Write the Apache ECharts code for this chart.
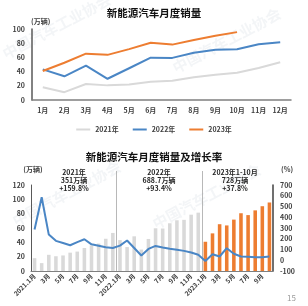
<!DOCTYPE html>
<html><head><meta charset="utf-8">
<script src="https://cdn.jsdelivr.net/npm/echarts@6/dist/echarts.min.js"></script>
<style>html,body{margin:0;padding:0;background:#fff}#c{width:308px;height:306px}</style>
</head><body><div id="c"></div>
<script>
// ---- data ----
const months = ['1月','2月','3月','4月','5月','6月','7月','8月','9月','10月','11月','12月'];
const sales2021 = [17.9, 11.0, 22.6, 20.6, 21.7, 25.6, 27.1, 32.1, 35.7, 38.3, 45.0, 53.1];
const sales2022 = [43.1, 33.4, 48.4, 29.9, 44.7, 59.6, 59.3, 66.6, 70.8, 71.4, 78.6, 81.4];
const sales2023 = [40.8, 52.5, 65.3, 63.6, 71.7, 80.6, 78.0, 84.6, 90.4, 95.6];
const growth2021 = [285.8, 585.5, 238.9, 180.3, 160.1, 139.3, 169.2, 194.9, 148.1, 134.9, 121.1, 114.4];
const growth2022 = [135.8, 184.1, 114.2, 44.6, 105.2, 133.2, 118.6, 107.7, 97.6, 87.2, 72.3, 51.8];
const growth2023 = [-6.3, 55.9, 34.8, 112.3, 60.2, 35.2, 31.6, 27.0, 27.7, 33.9];
const bottomCats = [
  '2021.1月','2月','3月','4月','5月','6月','7月','8月','9月','10月','11月','12月',
  '2022.1月','2月','3月','4月','5月','6月','7月','8月','9月','10月','11月','12月',
  '2023.1月','2月','3月','4月','5月','6月','7月','8月','9月','10月'
];
const yearBreaks = [12, 24];
const notes = [
  {text: '2021年\n351万辆\n+159.8%', x: 74},
  {text: '2022年\n688.7万辆\n+93.4%', x: 159},
  {text: '2023年1-10月\n728万辆\n+37.8%', x: 235}
];

const GRAY = '#d9d9d9', BLUE = '#4a86c5', ORANGE = '#ed7d31', TXT = '#404040';
const FONT = '"Noto Sans CJK SC", "Noto Sans", sans-serif';

const barsHist = sales2021.concat(sales2022).concat(sales2023.map(() => null));
const bars2023 = sales2021.map(() => null).concat(sales2022.map(() => null)).concat(sales2023);
const growthAll = growth2021.concat(growth2022).concat(growth2023);

const chart = echarts.init(document.getElementById('c'), null, {renderer: 'canvas'});
const axisLabel = {color: TXT, fontSize: 7, fontFamily: FONT, fontWeight: 'bold'};

const wm = (x, y, rot, txt) => ({
  type: 'text', x: x, y: y, rotation: rot * Math.PI / 180, silent: true, z: -1,
  style: {text: txt, fill: 'rgba(170,185,200,0.14)', font: 'bold 15px ' + FONT}
});

chart.setOption({
  animation: false,
  textStyle: {fontFamily: FONT},
  title: [
    {text: '新能源汽车月度销量', left: 'center', top: 3,
     textStyle: {fontSize: 10.5, fontWeight: 'bold', color: '#111', fontFamily: FONT}},
    {text: '新能源汽车月度销量及增长率', left: 'center', top: 147,
     textStyle: {fontSize: 10.5, fontWeight: 'bold', color: '#111', fontFamily: FONT}}
  ],
  legend: {
    top: 121, left: 'center', itemWidth: 14, itemHeight: 2, itemGap: 14, icon: 'rect',
    data: ['2021年', '2022年', '2023年'],
    textStyle: {color: TXT, fontSize: 7, fontWeight: 'bold', fontFamily: FONT}
  },
  grid: [
    {left: 32, right: 17, top: 29, bottom: 206},
    {left: 31, right: 35, top: 185, bottom: 35},
    {left: 31, right: 35, top: 171, bottom: 35}
  ],
  xAxis: [
    {type: 'category', gridIndex: 0, data: months,
     axisLine: {lineStyle: {color: '#7f7f7f', width: 1.5}}, axisTick: {show: false},
     axisLabel: Object.assign({margin: 7}, axisLabel)},
    {type: 'category', gridIndex: 1, data: bottomCats,
     axisLine: {lineStyle: {color: '#7f7f7f', width: 1}}, axisTick: {show: false},
     axisLabel: Object.assign({interval: 1, rotate: 45, margin: 4}, axisLabel, {fontSize: 6.5})},
    {type: 'value', gridIndex: 2, min: 0, max: bottomCats.length, show: false}
  ],
  yAxis: [
    {type: 'value', gridIndex: 0, min: 0, max: 100, interval: 20,
     name: '(万辆)', nameGap: 4, nameTextStyle: {color: TXT, fontSize: 7, fontWeight: 'bold', align: 'left', padding: [0, 0, 0, -1]},
     axisLine: {show: true, lineStyle: {color: '#595959', width: 1.5}}, axisTick: {show: false},
     splitLine: {show: false}, axisLabel: Object.assign({margin: 7}, axisLabel)},
    {type: 'value', gridIndex: 1, min: 0, max: 120, interval: 20,
     name: '(万辆)', nameGap: 12, nameTextStyle: {color: TXT, fontSize: 7, fontWeight: 'bold', align: 'center', padding: [0, 0, 0, 4]},
     axisLine: {show: true, lineStyle: {color: '#595959', width: 1}}, axisTick: {show: false},
     splitLine: {show: false}, axisLabel: Object.assign({margin: 6}, axisLabel)},
    {type: 'value', gridIndex: 1, position: 'right', min: -100, max: 700, interval: 100,
     name: '(%)', nameGap: 12, nameTextStyle: {color: TXT, fontSize: 7, fontWeight: 'bold', align: 'left', padding: [0, 0, 0, 8]},
     axisLine: {show: true, lineStyle: {color: '#404040', width: 1.5}}, axisTick: {show: false},
     splitLine: {show: false}, axisLabel: Object.assign({margin: 7}, axisLabel)},
    {type: 'value', gridIndex: 2, min: 0, max: 1, show: false}
  ],
  series: [
    {name: '2021年', type: 'line', xAxisIndex: 0, yAxisIndex: 0, data: sales2021,
     symbol: 'none', lineStyle: {color: GRAY, width: 2}, itemStyle: {color: GRAY}},
    {name: '2022年', type: 'line', xAxisIndex: 0, yAxisIndex: 0, data: sales2022,
     symbol: 'none', lineStyle: {color: BLUE, width: 2}, itemStyle: {color: BLUE}},
    {name: '2023年', type: 'line', xAxisIndex: 0, yAxisIndex: 0,
     data: sales2023.map((v, i) => i === sales2023.length - 1
       ? {value: v, label: {show: true, position: 'right', distance: 8, formatter: '{c}', color: TXT, fontSize: 7}}
       : v),
     symbol: 'none', lineStyle: {color: ORANGE, width: 2}, itemStyle: {color: ORANGE}},
    {name: 'hist', type: 'bar', xAxisIndex: 1, yAxisIndex: 1, data: barsHist,
     barWidth: '50%', barGap: '-100%', itemStyle: {color: GRAY}},
    {name: 'y2023', type: 'bar', xAxisIndex: 1, yAxisIndex: 1, data: bars2023,
     barWidth: '50%', barGap: '-100%', itemStyle: {color: ORANGE}},
    {name: 'growth', type: 'line', xAxisIndex: 1, yAxisIndex: 2, data: growthAll,
     symbol: 'none', lineStyle: {color: BLUE, width: 2}, itemStyle: {color: BLUE}, z: 5},
    {name: 'sep', type: 'line', xAxisIndex: 2, yAxisIndex: 3, data: [],
     symbol: 'none', silent: true,
     markLine: {silent: true, symbol: 'none', label: {show: false},
       lineStyle: {color: '#a6a6a6', width: 0.8, type: 'solid'},
       data: yearBreaks.map(i => ({xAxis: i}))}}
  ],
  graphic: [
    wm(0, 48, 28, '中国汽车工业协会'),
    wm(170, 62, 28, '中国汽车工业协会'),
    wm(10, 215, 28, '中国汽车工业协会'),
    wm(150, 218, 28, '中国汽车工业协会'),
    ...notes.map(n => ({
      type: 'text', x: n.x, y: 169, silent: true,
      style: {text: n.text, fill: '#262626', font: 'bold 7px ' + FONT, align: 'center', lineHeight: 7.6}
    })),
    {type: 'text', right: 12, bottom: 4, silent: true,
     style: {text: '15', fill: '#9a9a9a', font: '8px ' + FONT}}
  ]
});
</script></body></html>
